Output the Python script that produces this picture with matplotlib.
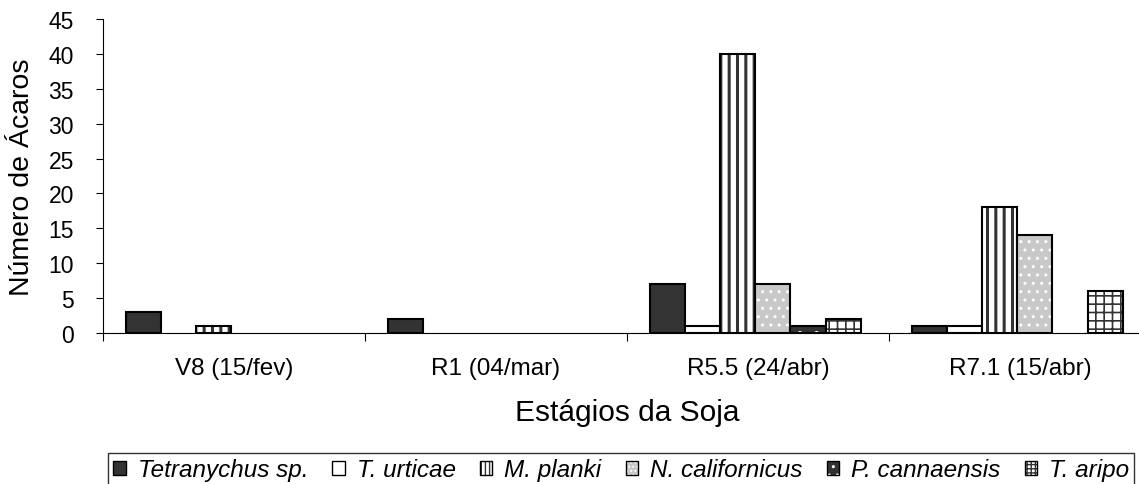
import numpy as np
import matplotlib
matplotlib.use('Agg')
import matplotlib.pyplot as plt
from matplotlib.patches import Patch
from matplotlib.legend_handler import HandlerTuple

plt.rcParams['font.family'] = ['Liberation Sans', 'DejaVu Sans']

estagios = ['V8 (15/fev)', 'R1 (04/mar)', 'R5.5 (24/abr)', 'R7.1 (15/abr)']
especies = ['Tetranychus sp.', 'T. urticae', 'M. planki', 'N. californicus',
            'P. cannaensis', 'T. aripo']
tetranychus = [3, 2, 7, 1]
urticae = [0, 0, 1, 1]
planki = [1, 0, 40, 18]
californicus = [0, 0, 7, 14]
cannaensis = [0, 0, 1, 0]
aripo = [0, 0, 2, 6]
valores = [tetranychus, urticae, planki, californicus, cannaensis, aripo]

# face, hatch, hatch colour, hatch linewidth
estilos = [('#333333', None, None, 1),
           ('white', None, None, 1),
           ('white', '||', '#333333', 2.2),
           ('#c8c8c8', '..', 'white', 1.0),
           ('#333333', '.', 'white', 1.0),
           ('white', '++', '#333333', 1.2)]


def capa(hlw, fn, *args, **kw):
    with plt.rc_context({'hatch.linewidth': hlw}):
        obj = fn(*args, **kw)
    lista = obj if hasattr(obj, '__iter__') else [obj]
    for p in lista:
        if hasattr(p, 'set_hatch_linewidth'):
            p.set_hatch_linewidth(hlw)
    return obj


fig = plt.figure(figsize=(11.39, 4.85), dpi=100)
ax = fig.add_axes([103/1139, 1-334/485, 1048/1139, 314/485])

x = np.arange(len(estagios))
w = 0.134
for i, vals in enumerate(valores):
    face, hatch, hc, hlw = estilos[i]
    vals = np.array(vals)
    m = vals > 0
    pos = (x + (i - 2.5) * w - 0.01)[m]
    if hatch:
        capa(hlw, ax.bar, pos, vals[m], w, color=face, edgecolor=hc,
             hatch=hatch, linewidth=0)
        ax.bar(pos, vals[m], w, fill=False, edgecolor='black', linewidth=1.5)
    else:
        ax.bar(pos, vals[m], w, color=face, edgecolor='black', linewidth=1.5)

ax.set_xlim(-0.5, 3.5)
ax.set_ylim(0, 45)
ax.set_yticks(range(0, 46, 5))
ax.set_xticks(np.arange(-0.5, 4, 1))
ax.set_xticklabels([])
ax.set_xticks(x, minor=True)
ax.set_xticklabels(estagios, minor=True, fontsize=17.5)
ax.tick_params(axis='x', which='minor', length=0, pad=17)
ax.tick_params(axis='x', which='major', length=6, direction='out')
ax.tick_params(axis='y', labelsize=16.5, length=5, pad=16)
ax.spines['right'].set_visible(False)
ax.spines['top'].set_visible(False)
ax.set_ylabel('Número de Ácaros', fontsize=20.5)
ax.yaxis.set_label_coords(-68/1048, 0.5)
ax.set_xlabel('Estágios da Soja', fontsize=21.5, labelpad=14)

handles = []
for face, hatch, hc, hlw in estilos:
    if hatch:
        h1 = capa(min(hlw, 1.2), Patch, facecolor=face, edgecolor=hc, hatch=hatch * 2,
                  linewidth=0)
        handles.append((h1, Patch(fill=False, edgecolor='black', linewidth=1)))
    else:
        handles.append(Patch(facecolor=face, edgecolor='black', linewidth=1))
leg = fig.legend(handles, especies, loc='upper left', bbox_to_anchor=(108/1139, 1-454/485),
                 ncol=6, frameon=True, fancybox=False, edgecolor='black',
                 prop={'style': 'italic', 'size': 17.5}, handlelength=0.5, handleheight=0.5,
                 handletextpad=0.5, columnspacing=1.0, borderpad=0.22, borderaxespad=0,
                 handler_map={tuple: HandlerTuple(ndivide=1, pad=0)})
leg.get_frame().set_linewidth(1)

fig.savefig('out.png', dpi=100)
